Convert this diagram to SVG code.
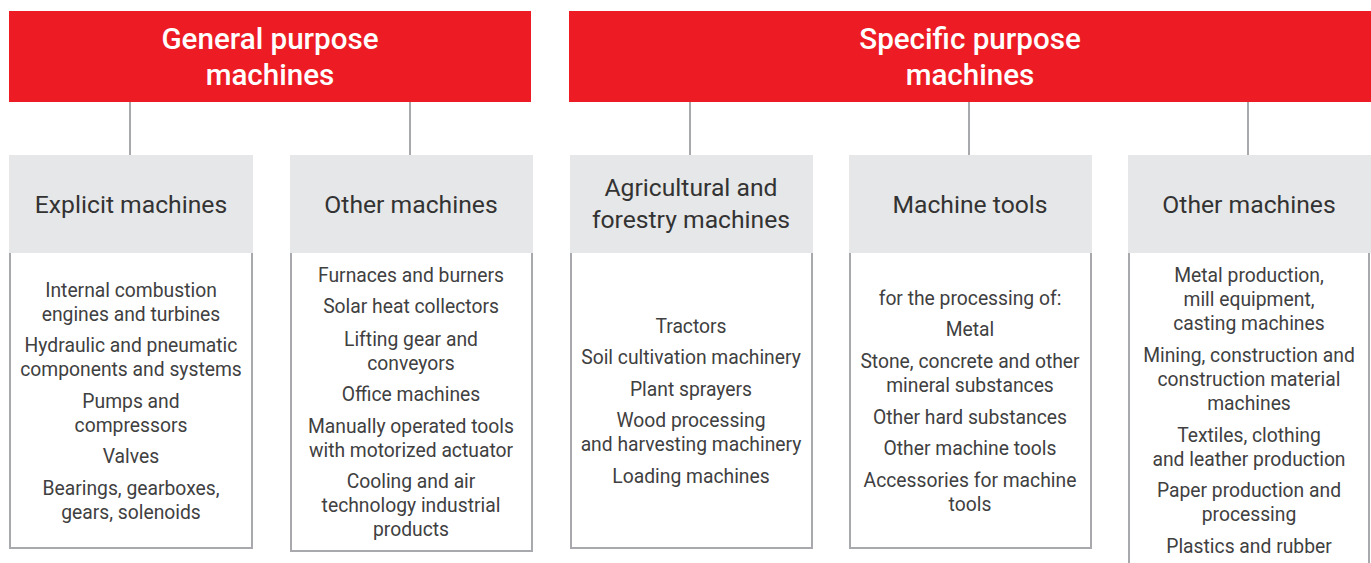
<svg xmlns="http://www.w3.org/2000/svg" width="1371" height="563" viewBox="0 0 1371 563">
<style>
.red{fill:#ED1C24}
.hd{fill:#FFFFFF;font-family:Roboto,"Liberation Sans",sans-serif;font-size:29.6px;font-weight:500;text-anchor:middle}
.gray{fill:#E6E7E8}
.sub{fill:#333333;font-family:Roboto,"Liberation Sans",sans-serif;font-size:24.7px;text-anchor:middle}
.body{fill:#404041;font-family:Roboto,"Liberation Sans",sans-serif;font-size:19.3px;text-anchor:middle}
.frame{fill:#FFFFFF;stroke:#A7A9AC;stroke-width:2}
.conn{stroke:#A7A9AC;stroke-width:2;fill:none}
</style>
<rect width="1371" height="563" fill="#FFFFFF"/>
<g id="connectors">
<line class="conn" x1="130" y1="102" x2="130" y2="155"/>
<line class="conn" x1="410" y1="102" x2="410" y2="155"/>
<line class="conn" x1="690" y1="102" x2="690" y2="155"/>
<line class="conn" x1="969" y1="102" x2="969" y2="155"/>
<line class="conn" x1="1248" y1="102" x2="1248" y2="155"/>
</g>
<g id="general">
<rect class="red" x="9" y="11" width="522" height="91"/>
<text class="hd" x="270" y="49">General purpose</text>
<text class="hd" x="270" y="85">machines</text>
</g>
<g id="specific">
<rect class="red" x="569" y="11" width="802" height="91"/>
<text class="hd" x="970" y="49">Specific purpose</text>
<text class="hd" x="970" y="85">machines</text>
</g>
<g id="explicit">
<path class="frame" d="M10,253 V548 H252 V253"/>
<rect class="gray" x="9" y="155" width="244" height="98"/>
<text class="sub" x="131" y="213">Explicit machines</text>
<text class="body" x="131" y="297">Internal combustion</text>
<text class="body" x="131" y="321">engines and turbines</text>
<text class="body" x="131" y="352">Hydraulic and pneumatic</text>
<text class="body" x="131" y="376">components and systems</text>
<text class="body" x="131" y="408">Pumps and</text>
<text class="body" x="131" y="432">compressors</text>
<text class="body" x="131" y="463">Valves</text>
<text class="body" x="131" y="495">Bearings, gearboxes,</text>
<text class="body" x="131" y="519">gears, solenoids</text>
</g>
<g id="other-general">
<path class="frame" d="M291,253 V551 H532 V253"/>
<rect class="gray" x="290" y="155" width="243" height="98"/>
<text class="sub" x="411" y="213">Other machines</text>
<text class="body" x="411" y="282">Furnaces and burners</text>
<text class="body" x="411" y="313">Solar heat collectors</text>
<text class="body" x="411" y="346">Lifting gear and</text>
<text class="body" x="411" y="370">conveyors</text>
<text class="body" x="411" y="401">Office machines</text>
<text class="body" x="411" y="433">Manually operated tools</text>
<text class="body" x="411" y="457">with motorized actuator</text>
<text class="body" x="411" y="488">Cooling and air</text>
<text class="body" x="411" y="512">technology industrial</text>
<text class="body" x="411" y="536">products</text>
</g>
<g id="agricultural">
<path class="frame" d="M571,253 V548 H812 V253"/>
<rect class="gray" x="570" y="155" width="243" height="98"/>
<text class="sub" x="691" y="196">Agricultural and</text>
<text class="sub" x="691" y="228">forestry machines</text>
<text class="body" x="691" y="333">Tractors</text>
<text class="body" x="691" y="364">Soil cultivation machinery</text>
<text class="body" x="691" y="396">Plant sprayers</text>
<text class="body" x="691" y="427">Wood processing</text>
<text class="body" x="691" y="451">and harvesting machinery</text>
<text class="body" x="691" y="483">Loading machines</text>
</g>
<g id="machine-tools">
<path class="frame" d="M850,253 V548 H1091 V253"/>
<rect class="gray" x="849" y="155" width="243" height="98"/>
<text class="sub" x="970" y="213">Machine tools</text>
<text class="body" x="970" y="305">for the processing of:</text>
<text class="body" x="970" y="336">Metal</text>
<text class="body" x="970" y="368">Stone, concrete and other</text>
<text class="body" x="970" y="392">mineral substances</text>
<text class="body" x="970" y="424">Other hard substances</text>
<text class="body" x="970" y="455">Other machine tools</text>
<text class="body" x="970" y="487">Accessories for machine</text>
<text class="body" x="970" y="511">tools</text>
</g>
<g id="other-specific">
<path class="frame" d="M1129,253 V570 M1369,253 V570"/>
<rect class="gray" x="1128" y="155" width="243" height="98"/>
<text class="sub" x="1249" y="213">Other machines</text>
<text class="body" x="1249" y="282">Metal production,</text>
<text class="body" x="1249" y="306">mill equipment,</text>
<text class="body" x="1249" y="330">casting machines</text>
<text class="body" x="1249" y="362">Mining, construction and</text>
<text class="body" x="1249" y="386">construction material</text>
<text class="body" x="1249" y="410">machines</text>
<text class="body" x="1249" y="442">Textiles, clothing</text>
<text class="body" x="1249" y="466">and leather production</text>
<text class="body" x="1249" y="497">Paper production and</text>
<text class="body" x="1249" y="521">processing</text>
<text class="body" x="1249" y="553">Plastics and rubber</text>
</g>
</svg>
